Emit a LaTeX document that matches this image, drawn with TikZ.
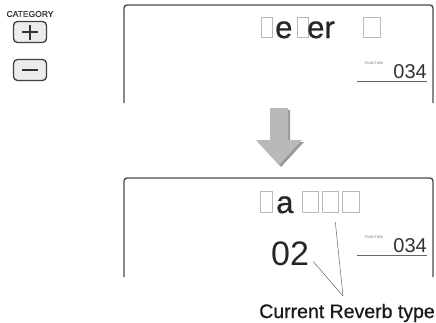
\documentclass[tikz,border=0pt]{standalone}
\usepackage{fontspec}
\setmainfont{Liberation Sans}
\newfontfamily\medfont{Liberation Sans}[FakeBold=0.7]
\tikzset{
  panel/.style={line width=1.4pt, draw=black!70, rounded corners=3pt},
  btn/.style={draw=black!75, fill=gray!15, line width=1.3pt, rounded corners=4pt,
              minimum width=33pt, minimum height=21pt, inner sep=0pt},
  sign/.style={line width=2pt, black!80},
  lcd/.style={draw=gray!55, line width=0.6pt, inner sep=0pt, anchor=south west},
  seg/.style={inner sep=0pt, anchor=base west, black!85, font=\medfont\fontsize{31}{31}\selectfont},
  fn/.style={inner sep=0pt, black!60, font=\fontsize{3.5}{4}\selectfont},
  num/.style={inner sep=0pt, anchor=base east, black!80, font=\fontsize{20}{20}\selectfont},
  leader/.style={line width=0.5pt, black!60}
}
\begin{document}
\begin{tikzpicture}[x=1pt,y=-1pt]
    \useasboundingbox (0,0) rectangle (436,322);

    % CATEGORY buttons
    \node[inner sep=0pt, black!80, font=\medfont\fontsize{8.5}{8.5}\selectfont] (cat) at (30,14) {CATEGORY};
    \node[btn] (plus) at (30,32) {};
    \draw[sign] ([xshift=-8pt]plus.center) -- ([xshift=8pt]plus.center);
    \draw[sign] ([yshift=-7.5pt]plus.center) -- ([yshift=7.5pt]plus.center);
    \node[btn] (minus) at (30,70) {};
    \draw[sign] ([xshift=-8pt]minus.center) -- ([xshift=8pt]minus.center);

    % Upper display
    \draw[panel] (124,103) -- (124,5) -- (433,5) -- (433,103);
    \node[lcd, minimum width=11pt, minimum height=20pt] (r1) at (261,38) {};
    \node[seg] (e1) at (275,38) {e};
    \node[lcd, minimum width=11pt, minimum height=20pt] (r2) at (297,38) {};
    \node[seg] (e2) at (307,38) {er};
    \node[lcd, minimum width=17pt, minimum height=20pt] (r3) at (363,38) {};
    \node[fn] (fa) at (374,63) {FUNCTION};
    \node[num] (na) at (427,78) {034};
    \draw[line width=0.8pt, black!60] ([xshift=-70pt,yshift=-3pt]na.base east) -- ([yshift=-3pt]na.base east);

    % Change arrow
    \fill[gray!80] (272,110) -- (290,110) -- (290,142) -- (304,142) -- (281,167) -- (258,142) -- (272,142) -- cycle;
    \fill[gray!55] (270,108) -- (288,108) -- (288,140) -- (302,140) -- (279,165) -- (256,140) -- (270,140) -- cycle;

    % Lower display
    \draw[panel] (124,277) -- (124,178) -- (433,178) -- (433,277);
    \node[lcd, minimum width=12pt, minimum height=21pt] (b1) at (260,213) {};
    \node[seg] (a1) at (276,213) {a};
    \node[lcd, minimum width=16pt, minimum height=21pt] (b2) at (302,213) {};
    \node[lcd, minimum width=16pt, minimum height=21pt] (b3) at (322,213) {};
    \node[lcd, minimum width=17pt, minimum height=21pt] (b4) at (342,213) {};
    \node[inner sep=0pt, anchor=base west, black!85, font=\fontsize{34}{34}\selectfont] (typ) at (271,265) {02};
    \node[fn] (fb) at (374,237) {FUNCTION};
    \node[num] (nb) at (427,252) {034};
    \draw[line width=0.8pt, black!60] ([xshift=-70pt,yshift=-3pt]nb.base east) -- ([yshift=-3pt]nb.base east);

    % Label with leaders
    \node[inner sep=0pt, anchor=base east, black!90, font=\medfont\fontsize{19.5}{19.5}\selectfont] (cur) at (435,318) {Current Reverb type};
    \coordinate (meet) at (343,296);
    \draw[leader] ([xshift=4pt,yshift=4pt]typ.south east) -- (meet);
    \draw[leader] ([xshift=5pt,yshift=-9pt]b3.south) -- (meet);
\end{tikzpicture}
\end{document}
